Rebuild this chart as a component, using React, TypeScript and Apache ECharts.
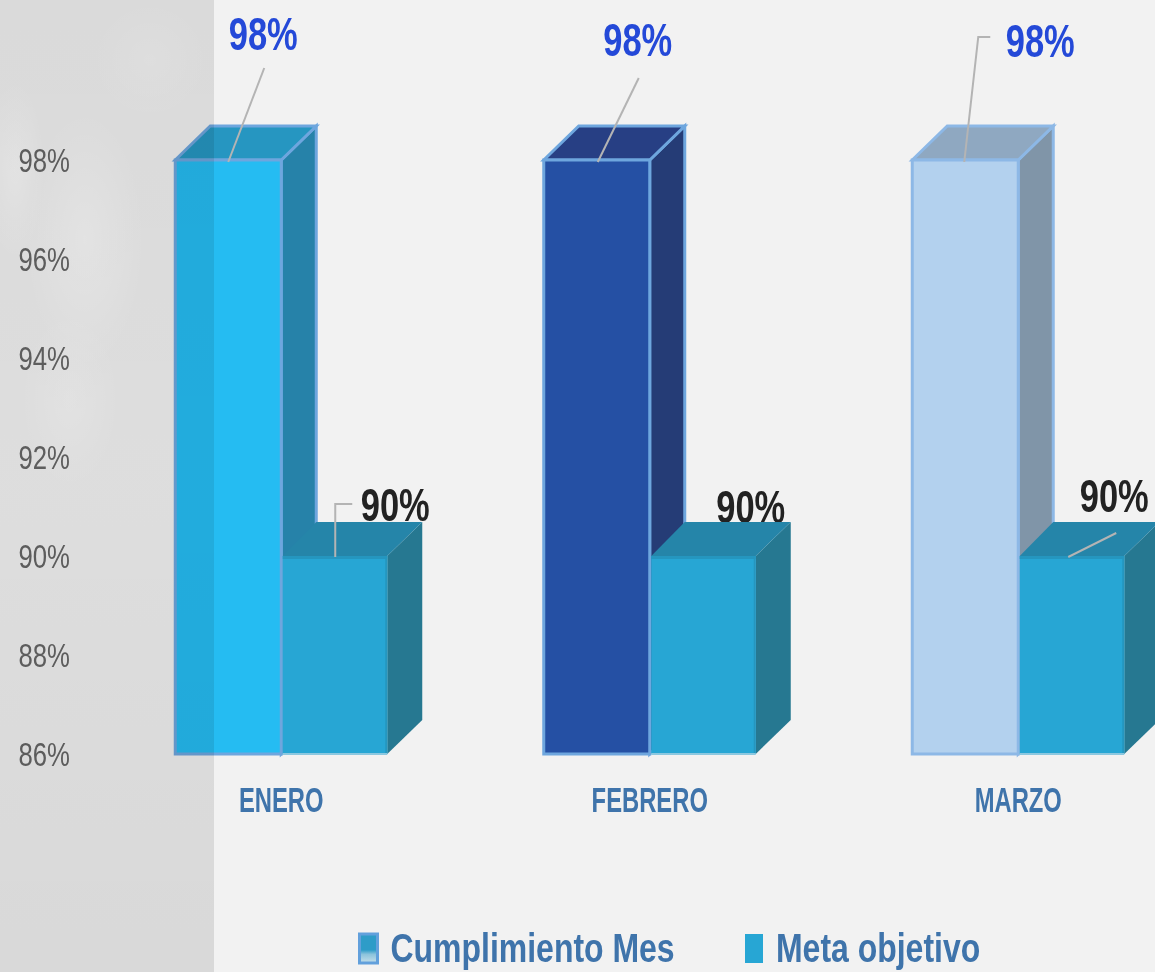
import React, { useEffect, useRef } from "react";
import * as echarts from "echarts";

const categories = ["ENERO", "FEBRERO", "MARZO"];
const cumplimiento = [98, 98, 98];
const meta = [90, 90, 90];
const labelSuffix = "%";

const FONT = "'Liberation Sans', sans-serif";
const DX = 35;
const DY = 34;
const BAR_FRACTION = 106 / 368.5;

// no condensed face is installed, so texts are narrowed horizontally, by font size
const Y_SIZE = 33;
const X_SIZE = 35;
const VALUE_SIZE = 46;
const LEGEND_SIZE = 41;
const narrowBySize: Record<number, number> = {
  [Y_SIZE]: 0.78,
  [X_SIZE]: 0.68,
  [VALUE_SIZE]: 0.75,
  [LEGEND_SIZE]: 0.78,
};

const cumplimientoFaces = [
  { front: "#25bcf2", top: "#2696c1", side: "#2682a9", stroke: "#6ea6de" },
  { front: "#2550a4", top: "#273f84", side: "#253c76", stroke: "#6ea6de" },
  { front: "#b3d1ee", top: "#8fa8c1", side: "#8095a8", stroke: "#8db8e6" },
];
const metaFaces = { front: "#27a6d4", top: "#2585a9", side: "#267891", edge: "#2596bf", base: "#8cc8e0" };

// label centre and leader line, relative to the top-left corner of the bar's front face
const cumplimientoLabels = [
  { dx: 88, dy: -126, leader: [[89, -92], [53, 2]] },
  { dx: 94, dy: -120, leader: [[95, -82], [54, 2]] },
  { dx: 128, dy: -119, leader: [[78, -123], [66, -123], [52, 2]] },
];
const metaLabels = [
  { dx: 114, dy: -51, leader: [[71, -52], [54, -52], [54, 1]] },
  { dx: 101, dy: -49, leader: null },
  { dx: 96, dy: -60, leader: [[98, -23], [50, 1]] },
];

function cumplimientoCube(x0: number, x1: number, yt: number, yb: number, f: any) {
  const faceStroke = { stroke: f.stroke, lineWidth: 3, lineJoin: "miter" };
  return [
    {
      type: "polygon",
      shape: { points: [[x1, yt], [x1 + DX, yt - DY], [x1 + DX, yb - DY], [x1, yb]] },
      style: { fill: f.side, ...faceStroke },
    },
    {
      type: "polygon",
      shape: { points: [[x0, yt], [x0 + DX, yt - DY], [x1 + DX, yt - DY], [x1, yt]] },
      style: { fill: f.top, ...faceStroke },
    },
    {
      type: "rect",
      shape: { x: x0, y: yt, width: x1 - x0, height: yb - yt },
      style: { fill: f.front, ...faceStroke },
    },
  ];
}

function metaCube(x0: number, x1: number, yt: number, yb: number, f: any) {
  const inset = 1.5; // keeps the neighbouring bar's outline visible
  return [
    {
      type: "polygon",
      shape: { points: [[x1, yt], [x1 + DX, yt - DY], [x1 + DX, yb - DY], [x1, yb]] },
      style: { fill: f.side },
    },
    {
      type: "polygon",
      shape: { points: [[x0 + inset, yt], [x0 + DX, yt - DY], [x1 + DX, yt - DY], [x1, yt]] },
      style: { fill: f.top },
    },
    {
      type: "rect",
      shape: { x: x0 + inset, y: yt, width: x1 - x0 - inset, height: yb - yt },
      style: { fill: f.front },
    },
    {
      type: "line",
      shape: { x1: x0 + inset, y1: yt + 1.5, x2: x1, y2: yt + 1.5 },
      style: { stroke: f.edge, lineWidth: 3 },
    },
    {
      type: "line",
      shape: { x1: x1 - 1, y1: yt, x2: x1 - 1, y2: yb },
      style: { stroke: f.edge, lineWidth: 2 },
    },
    {
      type: "line",
      shape: { x1: x0 + inset, y1: yb, x2: x1, y2: yb },
      style: { stroke: f.base, lineWidth: 2 },
    },
  ];
}

function leaderEl(x0: number, yt: number, pts: number[][]) {
  return {
    type: "polyline",
    shape: { points: pts.map((p) => [x0 + p[0], yt + p[1]]) },
    style: { stroke: "#b4b4b4", lineWidth: 2, fill: "none" },
  };
}

function valueEl(x: number, y: number, color: string, text: string) {
  return {
    type: "text",
    style: {
      text,
      x,
      y,
      fill: color,
      fontFamily: FONT,
      fontSize: VALUE_SIZE,
      fontWeight: "bold",
      align: "center",
      verticalAlign: "middle",
    },
  };
}

function narrowTexts(root: HTMLElement) {
  root.querySelectorAll("svg text").forEach((t) => {
    const css = (t.getAttribute("style") || "") + " " + (t.getAttribute("font-size") || "");
    const m = css.match(/(\d+(?:\.\d+)?)px/);
    const s = m ? narrowBySize[Number(m[1])] : undefined;
    if (!s) return;
    const x = Number(t.getAttribute("x") || 0);
    const base = t.getAttribute("transform") || "";
    t.setAttribute("transform", `${base} translate(${x} 0) scale(${s} 1) translate(${-x} 0)`);
  });
}

export default function App() {
  const ref = useRef<HTMLDivElement>(null);

  useEffect(() => {
    document.body.style.margin = "0";
    document.body.style.overflow = "hidden";
    const chart = echarts.init(ref.current!, undefined, { renderer: "svg" });

    const blob = (cx: number, cy: number, rx: number, ry: number, a: number) => ({
      type: "ellipse",
      silent: true,
      z: 0,
      shape: { cx, cy, rx, ry },
      style: {
        fill: new echarts.graphic.RadialGradient(0.5, 0.5, 0.5, [
          { offset: 0, color: `rgba(255,255,255,${a})` },
          { offset: 1, color: "rgba(255,255,255,0)" },
        ]),
      },
    });

    const option: any = {
      animation: false,
      backgroundColor: "#f2f2f2",
      grid: { left: 97, top: 160, width: 1105.5, height: 594 },
      xAxis: {
        type: "category",
        data: categories,
        axisLine: { show: false },
        axisTick: { show: false },
        axisLabel: {
          interval: 0,
          margin: 28,
          fontFamily: FONT,
          fontWeight: "bold",
          fontSize: X_SIZE,
          color: "#3f74ab",
        },
      },
      yAxis: {
        type: "value",
        min: 86,
        max: 98,
        interval: 2,
        axisLine: { show: false },
        axisTick: { show: false },
        splitLine: { show: false },
        axisLabel: {
          margin: 27,
          formatter: (v: number) => `${v}%`,
          fontFamily: FONT,
          fontSize: Y_SIZE,
          color: "#666666",
        },
      },
      legend: {
        left: 358,
        top: 928,
        itemWidth: 18,
        itemHeight: 29,
        itemGap: -10,
        padding: 0,
        textStyle: {
          fontFamily: FONT,
          fontWeight: "bold",
          fontSize: LEGEND_SIZE,
          color: "#3f74ab",
          padding: [0, 0, 0, 8],
        },
        data: [
          {
            name: "Cumplimiento Mes",
            icon: "rect",
            itemStyle: {
              color: new echarts.graphic.LinearGradient(0, 0, 0, 1, [
                { offset: 0, color: "#2e9cc8" },
                { offset: 0.55, color: "#2e9cc8" },
                { offset: 0.7, color: "#8cc3dc" },
                { offset: 1, color: "#c4dfea" },
              ]),
              borderColor: "#62a0dc",
              borderWidth: 3,
            },
          },
          { name: "Meta objetivo", icon: "rect", itemStyle: { color: "#27a6d4" } },
        ],
      },
      graphic: [
        blob(85, 240, 60, 130, 0.6),
        blob(70, 400, 50, 90, 0.4),
        blob(15, 170, 30, 90, 0.6),
        blob(150, 60, 60, 60, 0.3),
        {
          type: "rect",
          silent: true,
          z: 100,
          shape: { x: 0, y: 0, width: 214, height: 972 },
          style: {
            fill: new echarts.graphic.LinearGradient(0, 0, 0, 1, [
              { offset: 0, color: "rgba(0,0,0,0.1)" },
              { offset: 0.5, color: "rgba(0,0,0,0.085)" },
              { offset: 1, color: "rgba(0,0,0,0.105)" },
            ]),
          },
        },
      ],
      series: [
        {
          name: "Cumplimiento Mes",
          type: "custom",
          coordinateSystem: "cartesian2d",
          encode: { x: 0, y: 1 },
          itemStyle: { color: "#2e9cc8" },
          data: cumplimiento.map((v, i) => [i, v]),
          renderItem: (_p: any, api: any) => {
            const i = api.value(0);
            const top = api.coord([i, api.value(1)]);
            const base = api.coord([i, 86]);
            const w = api.size([1, 0])[0] * BAR_FRACTION;
            const x0 = top[0] - w;
            const lab = cumplimientoLabels[i];
            return {
              type: "group",
              children: [
                ...cumplimientoCube(x0, top[0], top[1], base[1], cumplimientoFaces[i]),
                leaderEl(x0, top[1], lab.leader),
                valueEl(x0 + lab.dx, top[1] + lab.dy, "#2449d8", `${api.value(1)}${labelSuffix}`),
              ],
            };
          },
        },
        {
          name: "Meta objetivo",
          type: "custom",
          coordinateSystem: "cartesian2d",
          encode: { x: 0, y: 1 },
          itemStyle: { color: "#27a6d4" },
          data: meta.map((v, i) => [i, v]),
          renderItem: (_p: any, api: any) => {
            const i = api.value(0);
            const top = api.coord([i, api.value(1)]);
            const base = api.coord([i, 86]);
            const w = api.size([1, 0])[0] * BAR_FRACTION;
            const x0 = top[0];
            const lab = metaLabels[i];
            return {
              type: "group",
              children: [
                valueEl(x0 + lab.dx, top[1] + lab.dy, "#222222", `${api.value(1)}${labelSuffix}`),
                ...metaCube(x0, x0 + w, top[1], base[1], metaFaces),
                ...(lab.leader ? [leaderEl(x0, top[1], lab.leader)] : []),
              ],
            };
          },
        },
      ],
    };

    chart.setOption(option);
    narrowTexts(ref.current!);
    return () => chart.dispose();
  }, []);

  return (
    <div style={{ position: "absolute", left: 0, top: 0, width: 1155, height: 972, overflow: "hidden", filter: "blur(0.5px)" }}>
      <div ref={ref} style={{ width: 1210, height: 972 }} />
    </div>
  );
}
